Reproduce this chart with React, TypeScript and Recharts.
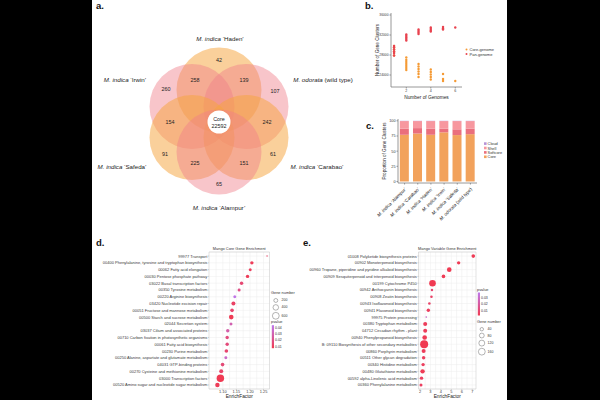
import React from "react";
import {
  Bar,
  BarChart,
  CartesianGrid,
  Legend,
  ReferenceArea,
  Scatter,
  ScatterChart,
  XAxis,
  YAxis
} from "recharts";

const FONT = "'Liberation Sans', Arial, sans-serif";
const ORANGE = "#f5a540";
const PINK = "#f07f8a";
const AXIS = "#7f7f7f";
const TEXT = "#3a3a3a";

// a. Venn of the six genomes (centres in chart units, flower centre at 0,0)
const vennSets = [
  { name: "Haden", x: 0, y: 32, fill: ORANGE },
  { name: "Irwin", x: -27, y: 15.5, fill: PINK },
  { name: "odorata", x: 27, y: 15.5, fill: PINK },
  { name: "Safeda", x: -27, y: -15.5, fill: ORANGE },
  { name: "Carabao", x: 27, y: -15.5, fill: ORANGE },
  { name: "Alampur", x: 0, y: -30, fill: PINK }
];
const vennRadius = 42.5;
const coreRadius = 11.5;
const vennLabels = [
  { species: "M. indica", cultivar: "‘Haden’", x: 1, y: 84 },
  { species: "M. indica", cultivar: "‘Irwin’", x: -94, y: 43 },
  { species: "M. odorata", cultivar: "(wild type)", x: 104, y: 43 },
  { species: "M. indica", cultivar: "‘Safeda’", x: -97, y: -44 },
  { species: "M. indica", cultivar: "‘Carabao’", x: 98, y: -44 },
  { species: "M. indica", cultivar: "‘Alampur’", x: 0, y: -85 }
];
const vennCounts = [
  { label: "42", x: 0, y: 62 },
  { label: "258", x: -24, y: 42 },
  { label: "139", x: 25, y: 42 },
  { label: "260", x: -53, y: 33 },
  { label: "107", x: 56, y: 31 },
  { label: "154", x: -49, y: 0 },
  { label: "242", x: 48, y: 0 },
  { label: "91", x: -54, y: -32 },
  { label: "225", x: -24, y: -41 },
  { label: "151", x: 25, y: -41 },
  { label: "61", x: 54, y: -32 },
  { label: "65", x: 0, y: -62 },
  { label: "Core", x: 0, y: 3.5 },
  { label: "22592", x: 0, y: -4 }
];

// b. gene cluster accumulation
const genomeCounts = [1, 2, 3, 4, 5, 6];
const panGenome = [
  [29800, 29500, 29100, 28700, 28400, 27900],
  [32100, 31800, 31500, 31200, 30900],
  [33100, 32800, 32500, 32200],
  [33500, 33200, 32900, 32700],
  [33600, 33300, 33100],
  [33500]
];
const coreGenome = [
  [29800, 29500, 29100, 28700, 28400, 27900],
  [27500, 27000, 26600, 26200, 25800, 25400, 25000],
  [26200, 25700, 25200, 24700, 24200, 23600],
  [25100, 24600, 24100, 23600, 23100],
  [24200, 23200, 22800],
  [22800]
];
const clusterTicks = [24000, 28000, 32000, 36000];

// c. composition per accession
const accessions = [
  "M. indica ‘Alampur’",
  "M. indica ‘Carabao’",
  "M. indica ‘Haden’",
  "M. indica ‘Irwin’",
  "M. indica ‘Safeda’",
  "M. odorata (wild type)"
];
const coreShare = [77, 79, 77, 81, 76.5, 78];
const softcoreShare = [10, 9, 10, 6, 9.5, 9];
const shellShare = [12.6, 11.6, 12.6, 12.6, 13.6, 12.6];
const cloudShare = [0.4, 0.4, 0.4, 0.4, 0.4, 0.4];
const shareTicks = [0, 25, 50, 75, 100];

// d. core gene enrichment
const coreTerms = [
  "99977 Transport",
  "00400 Phenylalanine, tyrosine and tryptophan biosynthesis",
  "00062 Fatty acid elongation",
  "00030 Pentose phosphate pathway",
  "03022 Basal transcription factors",
  "00350 Tyrosine metabolism",
  "00220 Arginine biosynthesis",
  "03420 Nucleotide excision repair",
  "00051 Fructose and mannose metabolism",
  "00500 Starch and sucrose metabolism",
  "02044 Secretion system",
  "03037 Cilium and associated proteins",
  "00710 Carbon fixation in photosynthetic organisms",
  "00061 Fatty acid biosynthesis",
  "00230 Purine metabolism",
  "00250 Alanine, aspartate and glutamate metabolism",
  "04031 GTP-binding proteins",
  "00270 Cysteine and methionine metabolism",
  "03000 Transcription factors",
  "00520 Amino sugar and nucleotide sugar metabolism"
];
const coreEnrich = [1.263, 1.207, 1.201, 1.191, 1.169, 1.16, 1.144, 1.139, 1.134, 1.131, 1.13, 1.118, 1.116, 1.116, 1.113, 1.111, 1.099, 1.094, 1.091, 1.08];
const coreGenes = [25, 150, 116, 150, 150, 116, 116, 207, 170, 275, 116, 150, 150, 150, 170, 116, 170, 207, 720, 250];
const corePvalue = [0.012, 0.009, 0.01, 0.009, 0.015, 0.02, 0.043, 0.012, 0.014, 0.008, 0.03, 0.028, 0.018, 0.017, 0.014, 0.036, 0.016, 0.013, 0.0075, 0.009];
const coreEnrichTicks = [1.1, 1.15, 1.2, 1.25];
const coreSizeKeys = [200, 400, 600];
const corePKeys = [0.04, 0.03, 0.02, 0.01];

// e. variable gene enrichment
const varTerms = [
  "01008 Polyketide biosynthesis proteins",
  "00902 Monoterpenoid biosynthesis",
  "00960 Tropane, piperidine and pyridine alkaloid biosynthesis",
  "00909 Sesquiterpenoid and triterpenoid biosynthesis",
  "00199 Cytochrome P450",
  "00942 Anthocyanin biosynthesis",
  "00908 Zeatin biosynthesis",
  "00943 Isoflavonoid biosynthesis",
  "00941 Flavonoid biosynthesis",
  "99975 Protein processing",
  "00380 Tryptophan metabolism",
  "04712 Circadian rhythm - plant",
  "00940 Phenylpropanoid biosynthesis",
  "B: 09110 Biosynthesis of other secondary metabolites",
  "00860 Porphyrin metabolism",
  "00511 Other glycan degradation",
  "00340 Histidine metabolism",
  "00480 Glutathione metabolism",
  "00592 alpha-Linolenic acid metabolism",
  "00360 Phenylalanine metabolism"
];
const varEnrich = [7.1, 5.7, 4.8, 4.25, 3.2, 3.15, 3.1, 2.9, 2.8, 2.6, 2.5, 2.5, 2.45, 2.4, 2.35, 2.35, 2.3, 2.25, 2.15, 2.1];
const varGenes = [45, 40, 73, 45, 150, 20, 23, 23, 40, 9, 55, 55, 73, 220, 55, 40, 40, 66, 40, 31];
const varPvalue = [0.004, 0.004, 0.003, 0.004, 0.003, 0.01, 0.008, 0.008, 0.006, 0.03, 0.005, 0.005, 0.004, 0.003, 0.005, 0.006, 0.006, 0.004, 0.006, 0.006];
const varEnrichTicks = [2, 3, 4, 5, 6, 7];
const varSizeKeys = [40, 80, 120, 160];
const varPKeys = [0.03, 0.02, 0.01];

const LOW = [240, 58, 82];
const HIGH = [190, 120, 235];
function pColor(p: number, lo: number, hi: number) {
  const t = Math.max(0, Math.min(1, (p - lo) / (hi - lo)));
  const c = LOW.map((v, i) => Math.round(v + (HIGH[i] - v) * t));
  return `rgb(${c[0]},${c[1]},${c[2]})`;
}

const yTitle = (text: string, dx: number) => (props: any) => {
  const vb = props.viewBox;
  const x = vb.x + dx;
  const y = vb.y + vb.height / 2;
  return (
    <text x={x} y={y} transform={`rotate(-90 ${x} ${y})`} textAnchor="middle" dominantBaseline="central" fontSize={4.6} fill="#222">
      {text}
    </text>
  );
};

const xTitle = (text: string, dy: number) => (props: any) => {
  const vb = props.viewBox;
  return (
    <text x={vb.x + vb.width / 2} y={vb.y + dy} textAnchor="middle" dominantBaseline="central" fontSize={4.8} fill="#222">
      {text}
    </text>
  );
};

function VennPanel() {
  const W = 272;
  const xDomain = [-127, 145];
  const unit = W / (xDomain[1] - xDomain[0]);
  return (
    <ScatterChart width={W} height={230} margin={{ top: 0, right: 0, bottom: 0, left: 0 }}>
      <XAxis type="number" dataKey="x" domain={xDomain} hide />
      <YAxis type="number" dataKey="y" domain={[-108, 122]} hide />
      <Scatter
        data={vennSets}
        isAnimationActive={false}
        shape={(p: any) => (
          <circle cx={p.cx} cy={p.cy} r={vennRadius * unit} fill={p.payload.fill} fillOpacity={p.payload.fill === ORANGE ? 0.52 : 0.45} />
        )}
      />
      <Scatter
        data={[{ x: 0, y: 0 }]}
        isAnimationActive={false}
        shape={(p: any) => <circle cx={p.cx} cy={p.cy} r={coreRadius * unit} fill="#fff" />}
      />
      <Scatter
        data={vennCounts}
        isAnimationActive={false}
        shape={(p: any) => (
          <text x={p.cx} y={p.cy} textAnchor="middle" dominantBaseline="central" fontSize={5.4} fill="#222">
            {p.payload.label}
          </text>
        )}
      />
      <Scatter
        data={vennLabels}
        isAnimationActive={false}
        shape={(p: any) => (
          <text x={p.cx} y={p.cy} textAnchor="middle" dominantBaseline="central" fontSize={6.2} fill="#222">
            <tspan fontStyle="italic">{p.payload.species}</tspan> {p.payload.cultivar}
          </text>
        )}
      />
    </ScatterChart>
  );
}

const toPoints = (rows: number[][]) => rows.flatMap((vals, i) => vals.map((v) => ({ n: genomeCounts[i], v })));

function AccumulationPanel() {
  return (
    <ScatterChart width={135} height={93} margin={{ top: 5, right: 39, bottom: 0, left: 5 }}>
      <XAxis
        type="number"
        dataKey="n"
        domain={[0.75, 6.55]}
        ticks={[2, 4, 6]}
        interval={0}
        height={14}
        stroke={AXIS}
        strokeWidth={0.8}
        tickSize={1.5}
        tickMargin={0.5}
        tick={{ fontSize: 3.6, fill: TEXT }}
        label={{ content: xTitle("Number of Genomes", 10.5) }}
      />
      <YAxis
        type="number"
        dataKey="v"
        domain={[21600, 36400]}
        ticks={clusterTicks}
        interval={0}
        width={20}
        stroke={AXIS}
        strokeWidth={0.8}
        tickSize={1.5}
        tickMargin={1}
        tick={{ fontSize: 3.3, fill: TEXT }}
        label={{ content: yTitle("Number of Gene Clusters", 6) }}
      />
      <Scatter data={toPoints(coreGenome)} fill="#f59a34" isAnimationActive={false} shape={(p: any) => <circle cx={p.cx} cy={p.cy} r={1.2} fill="#f59a34" />} />
      <Scatter data={toPoints(panGenome)} fill="#e8434f" isAnimationActive={false} shape={(p: any) => <circle cx={p.cx} cy={p.cy} r={1.2} fill="#e8434f" />} />
      <Legend
        align="center"
        verticalAlign="middle"
        layout="horizontal"
        wrapperStyle={{ left: 98, top: 37, width: 36, height: 14 }}
        content={() => (
          <svg width={36} height={14} style={{ display: "block" }}>
            <circle cx={2.5} cy={4.5} r={1} fill="#f59a34" />
            <text x={5.5} y={4.5} dominantBaseline="central" fontSize={4} fill="#333">Core-genome</text>
            <circle cx={2.5} cy={9} r={1} fill="#e8434f" />
            <text x={5.5} y={9} dominantBaseline="central" fontSize={4} fill="#333">Pan-genome</text>
          </svg>
        )}
      />
    </ScatterChart>
  );
}

const shareColors = { core: "#f2a25c", softcore: "#ea6f7d", shell: "#f7979f", cloud: "#b693d6" };

function AccessionTick(props: any) {
  const { x, y, payload } = props;
  const label: string = payload.value;
  const parts = label.split(" ");
  const species = parts.slice(0, 2).join(" ");
  const rest = parts.slice(2).join(" ");
  return (
    <text transform={`translate(${x + 2},${y + 3}) rotate(-45)`} textAnchor="end" fontSize={4.6} fill="#222">
      <tspan fontStyle="italic">{species}</tspan> {rest}
    </text>
  );
}

function CompositionPanel() {
  const data = accessions.map((name, i) => ({
    name,
    core: coreShare[i],
    softcore: softcoreShare[i],
    shell: shellShare[i],
    cloud: cloudShare[i]
  }));
  const keys = [
    { k: "cloud", label: "Cloud" },
    { k: "shell", label: "Shell" },
    { k: "softcore", label: "Softcore" },
    { k: "core", label: "Core" }
  ];
  return (
    <BarChart width={135} height={121} data={data} margin={{ top: 7, right: 28, bottom: 0, left: 8 }} barCategoryGap="14%">
      <XAxis dataKey="name" interval={0} height={50} stroke={AXIS} strokeWidth={0.8} tickSize={1.5} tick={<AccessionTick />} />
      <YAxis
        type="number"
        domain={[-2.5, 103]}
        ticks={shareTicks}
        interval={0}
        width={20}
        stroke={AXIS}
        strokeWidth={0.8}
        tickSize={1.5}
        tickMargin={1}
        tick={{ fontSize: 3.8, fill: TEXT }}
        label={{ content: yTitle("Proportion of Gene Clusters", 6.5) }}
      />
      <Bar dataKey="core" stackId="s" fill={shareColors.core} isAnimationActive={false} />
      <Bar dataKey="softcore" stackId="s" fill={shareColors.softcore} isAnimationActive={false} />
      <Bar dataKey="shell" stackId="s" fill={shareColors.shell} isAnimationActive={false} />
      <Bar dataKey="cloud" stackId="s" fill={shareColors.cloud} isAnimationActive={false} />
      <Legend
        align="center"
        verticalAlign="middle"
        layout="horizontal"
        wrapperStyle={{ left: 113, top: 29, width: 24, height: 20 }}
        content={() => (
          <svg width={24} height={20} style={{ display: "block" }}>
            {keys.map((item, i) => (
              <g key={item.k}>
                <rect x={1} y={1.3 + i * 4.4} width={2.6} height={2.6} fill={(shareColors as any)[item.k]} />
                <text x={4.6} y={2.6 + i * 4.4} dominantBaseline="central" fontSize={3.9} fill="#333">{item.label}</text>
              </g>
            ))}
          </svg>
        )}
      />
    </BarChart>
  );
}

type EnrichProps = {
  gid: string;
  title: string;
  terms: string[];
  enrich: number[];
  genes: number[];
  pvalue: number[];
  domain: [number, number];
  ticks: number[];
  gridValues: number[];
  tickDigits: number;
  radiusPerRoot: number;
  pRange: [number, number];
  sizeKeys: number[];
  pKeys: number[];
  yWidth: number;
  width: number;
  rightMargin: number;
  legendLeft: number;
  legendTop: number;
  sizeFirst: boolean;
};

function EnrichLegend(props: EnrichProps) {
  const { radiusPerRoot, pRange, sizeKeys, pKeys, sizeFirst, gid } = props;
  const [lo, hi] = pRange;
  const barH = 23;
  const sizeBlock = (top: number) => {
    let y = top + 4;
    return (
      <g>
        <text x={0} y={top} dominantBaseline="central" fontSize={3.9} fill="#333">Gene number</text>
        {sizeKeys.map((s) => {
          const r = radiusPerRoot * Math.sqrt(s);
          y += r + 2.2;
          const cy = y;
          y += r;
          return (
            <g key={s}>
              <circle cx={4.8} cy={cy} r={r} fill="#fff" stroke="#444" strokeWidth={0.4} />
              <text x={10.5} y={cy} dominantBaseline="central" fontSize={3.5} fill="#333">{s}</text>
            </g>
          );
        })}
      </g>
    );
  };
  const colorBlock = (top: number) => {
    const y0 = top + 3.5;
    return (
      <g>
        <text x={0} y={top} dominantBaseline="central" fontSize={3.9} fill="#333">pvalue</text>
        <rect x={0.8} y={y0} width={2.2} height={barH} fill={`url(#${gid})`} />
        {pKeys.map((p) => {
          const y = y0 + ((hi - p) / (hi - lo)) * barH;
          return (
            <text key={p} x={4} y={y} dominantBaseline="central" fontSize={3.5} fill="#333">{p.toFixed(2)}</text>
          );
        })}
      </g>
    );
  };
  return (
    <svg width={40} height={72} style={{ display: "block", overflow: "visible" }}>
      <defs>
        <linearGradient id={gid} x1="0" y1="0" x2="0" y2="1">
          <stop offset="0%" stopColor={pColor(hi, lo, hi)} />
          <stop offset="100%" stopColor={pColor(lo, lo, hi)} />
        </linearGradient>
      </defs>
      {sizeFirst ? (
        <>
          {sizeBlock(3.3)}
          {colorBlock(32.7)}
        </>
      ) : (
        <>
          {colorBlock(4)}
          {sizeBlock(36.3)}
        </>
      )}
    </svg>
  );
}

function TermTick(props: any) {
  const { x, y, payload, terms } = props;
  return (
    <text x={x} y={y} textAnchor="end" dominantBaseline="central" fontSize={4} fill={TEXT}>
      {terms[payload.value]}
    </text>
  );
}

function EnrichPanel(props: EnrichProps) {
  const { title, terms, enrich, genes, pvalue, domain, ticks, gridValues, tickDigits, radiusPerRoot, pRange } = props;
  const data = terms.map((term, i) => ({ row: i, term, enrich: enrich[i], genes: genes[i], p: pvalue[i] }));
  const rows = terms.map((_, i) => i);
  const yDomain: [number, number] = [-0.6, terms.length - 0.4];
  return (
    <ScatterChart width={props.width} height={155} margin={{ top: 7, right: props.rightMargin, bottom: 0, left: 0 }}>
      <CartesianGrid stroke="#ececec" strokeWidth={0.5} verticalValues={gridValues} />
      <XAxis
        type="number"
        dataKey="enrich"
        domain={domain}
        ticks={ticks}
        interval={0}
        height={11}
        axisLine={false}
        tickLine={{ stroke: "#999", strokeWidth: 0.4 }}
        tickSize={1.2}
        tickMargin={0.3}
        tickFormatter={(v: number) => v.toFixed(tickDigits)}
        tick={{ fontSize: 3.9, fill: TEXT }}
        label={{ content: xTitle("EnrichFactor", 7.2) }}
      />
      <YAxis
        type="number"
        dataKey="row"
        domain={yDomain}
        reversed
        ticks={rows}
        interval={0}
        width={props.yWidth}
        axisLine={false}
        tickLine={{ stroke: "#999", strokeWidth: 0.4 }}
        tickSize={1.2}
        tickMargin={0.5}
        tick={<TermTick terms={terms} />}
      />
      <ReferenceArea
        x1={domain[0]}
        x2={domain[1]}
        y1={yDomain[0]}
        y2={yDomain[1]}
        fill="none"
        stroke="#c4c4c4"
        strokeWidth={0.5}
        label={{ value: title, position: "top", offset: 1.6, fontSize: 3.9, fill: "#333" }}
      />
      <Scatter
        data={data}
        isAnimationActive={false}
        shape={(p: any) => (
          <circle
            cx={p.cx}
            cy={p.cy}
            r={radiusPerRoot * Math.sqrt(p.payload.genes)}
            fill={pColor(p.payload.p, pRange[0], pRange[1])}
          />
        )}
      />
      <Legend
        align="center"
        verticalAlign="middle"
        layout="horizontal"
        wrapperStyle={{ left: props.legendLeft, top: props.legendTop, width: 40, height: 72 }}
        content={() => <EnrichLegend {...props} />}
      />
    </ScatterChart>
  );
}

export default function App() {
  const box = (left: number, top: number, child: React.ReactNode) => (
    <div style={{ position: "absolute", left, top }}>{child}</div>
  );
  return (
    <div style={{ position: "fixed", left: 0, top: 0, width: 600, height: 400, background: "#000", overflow: "hidden", fontFamily: FONT }}>
      <div style={{ position: "absolute", left: 92, top: 0, width: 415, height: 400, background: "#fff" }} />
      {box(92, 0, <VennPanel />)}
      {box(366, 8, <AccumulationPanel />)}
      {box(370, 112, <CompositionPanel />)}
      {box(
        93,
        245,
        <EnrichPanel
          gid="gradCore"
          title="Mango Core Gene Enrichment"
          terms={coreTerms}
          enrich={coreEnrich}
          genes={coreGenes}
          pvalue={corePvalue}
          domain={[1.049, 1.272]}
          ticks={coreEnrichTicks}
          gridValues={[1.075, 1.1, 1.125, 1.15, 1.175, 1.2, 1.225, 1.25]}
          tickDigits={2}
          radiusPerRoot={0.139}
          pRange={[0.0073, 0.0443]}
          sizeKeys={coreSizeKeys}
          pKeys={corePKeys}
          yWidth={116}
          width={205}
          rightMargin={28.5}
          legendLeft={178}
          legendTop={44}
          sizeFirst={true}
        />
      )}
      {box(
        300,
        245,
        <EnrichPanel
          gid="gradVar"
          title="Mango Variable Gene Enrichment"
          terms={varTerms}
          enrich={varEnrich}
          genes={varGenes}
          pvalue={varPvalue}
          domain={[1.86, 7.36]}
          ticks={varEnrichTicks}
          gridValues={[2, 2.5, 3, 3.5, 4, 4.5, 5, 5.5, 6, 6.5, 7]}
          tickDigits={0}
          radiusPerRoot={0.27}
          pRange={[0.003, 0.0375]}
          sizeKeys={varSizeKeys}
          pKeys={varPKeys}
          yWidth={118.5}
          width={207}
          rightMargin={31}
          legendLeft={177}
          legendTop={40}
          sizeFirst={false}
        />
      )}
      <svg width={600} height={400} style={{ position: "absolute", left: 0, top: 0, pointerEvents: "none" }}>
        <g fontSize={9.5} fontWeight="bold" fill="#111">
          <text x={96} y={8.5}>a.</text>
          <text x={365} y={8.5}>b.</text>
          <text x={366} y={128.5}>c.</text>
          <text x={96} y={246}>d.</text>
          <text x={303} y={246}>e.</text>
        </g>
      </svg>
    </div>
  );
}
